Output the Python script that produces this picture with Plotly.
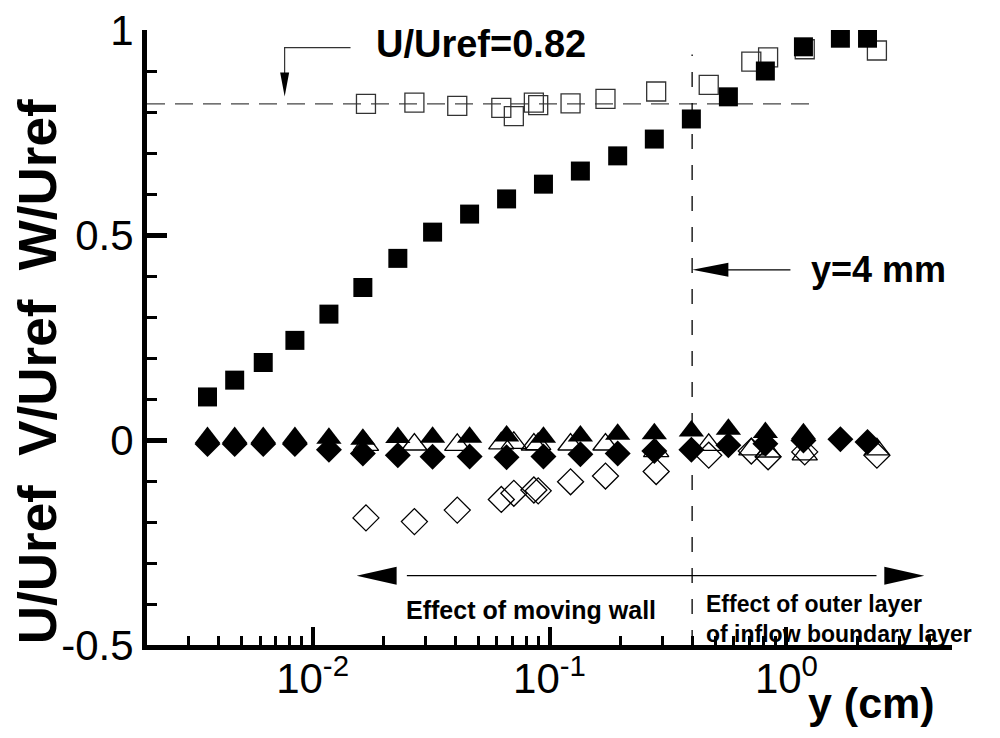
import numpy as np
import plotly.graph_objects as go

# case A (filled symbols): y (cm) and U, V, W / Uref
y_a = [0.00360, 0.00469, 0.00619, 0.00842, 0.01172, 0.01630, 0.0229, 0.0321, 0.0460, 0.0659,
       0.0943, 0.135, 0.194, 0.277, 0.397, 0.569, 0.815, 1.18, 1.69, 2.20]
u_a = [0.105, 0.146, 0.189, 0.243, 0.307, 0.372, 0.443, 0.507, 0.551, 0.588,
       0.624, 0.656, 0.693, 0.734, 0.783, 0.837, 0.900, 0.959, 0.980, 0.980]
v_a = [0.006, 0.006, 0.006, 0.006, 0.004, 0.002, 0.006, 0.007, 0.007, 0.010,
       0.007, 0.010, 0.014, 0.015, 0.022, 0.026, 0.018, 0.015]
w_a = [-0.010, -0.010, -0.010, -0.010, -0.024, -0.033, -0.037, -0.041, -0.040, -0.042,
       -0.040, -0.035, -0.033, -0.027, -0.024, -0.013, -0.009, -0.001, 0.002, -0.005]

# case B (open symbols)
y_b = [0.0168, 0.0269, 0.0408, 0.0626, 0.0707, 0.0859, 0.0896, 0.1227, 0.1723, 0.282,
       0.470, 0.711, 0.837, 1.195, 2.41]
u_b = [0.820, 0.823, 0.815, 0.810, 0.790, 0.823, 0.817, 0.821, 0.832, 0.850,
       0.866, 0.923, 0.933, 0.953, 0.950]
v_b = [-0.012, -0.011, -0.012, -0.008, -0.007, -0.011, -0.010, -0.011, -0.011, -0.027,
       -0.012, -0.023, -0.028, -0.035, -0.023]
w_b = [-0.190, -0.199, -0.171, -0.145, -0.130, -0.122, -0.124, -0.102, -0.088, -0.077,
       -0.037, -0.027, -0.041, -0.029, -0.037]

u_ref = 0.82
y_4mm = 0.4

x_lim = [0.002, 5.0]
y_lim = [-0.5, 1.0]
y_ticks = [-0.5, 0, 0.5, 1]
y_ticktext = ['-0.5', '0', '0.5', '1']
x_ticks = [0.01, 0.1, 1]
x_ticktext = ['10<sup>-2</sup>', '10<sup>-1</sup>', '10<sup>0</sup>']
x_minor = [m * 10.0 ** k for k in (-3, -2, -1, 0) for m in range(2, 10)
           if x_lim[0] <= m * 10.0 ** k <= x_lim[1]]

# plot area: the page body keeps its 8px margin, so the figure is 984x722
L, R, T, B = 139, 40, 22, 85
W_PX, H_PX = 984 - L - R, 722 - T - B
FONT = 'Liberation Sans, Arial, sans-serif'


def fx(x):
    lo, hi = np.log10(x_lim)
    return float((np.log10(x) - lo) / (hi - lo))


def fy(y):
    return (y - y_lim[0]) / (y_lim[1] - y_lim[0])


def head(x, y, direction, length, half):
    # filled arrow head, tip at data point (x, y), sizes in px
    tx, ty = fx(x), fy(y)
    if direction == 'left':
        bx, by = tx + length / W_PX, ty
        p1, p2 = (bx, by + half / H_PX), (bx, by - half / H_PX)
    elif direction == 'right':
        bx, by = tx - length / W_PX, ty
        p1, p2 = (bx, by + half / H_PX), (bx, by - half / H_PX)
    else:
        bx, by = tx, ty + length / H_PX
        p1, p2 = (bx - half / W_PX, by), (bx + half / W_PX, by)
    return dict(type='path', xref='paper', yref='paper', line_width=0, fillcolor='black',
                path=f'M {tx},{ty} L {p1[0]},{p1[1]} L {p2[0]},{p2[1]} Z')


def seg(pts, width=1.2, color='black'):
    d = 'M ' + ' L '.join(f'{fx(a)},{fy(b)}' for a, b in pts)
    return dict(type='path', xref='paper', yref='paper', path=d,
                line=dict(color=color, width=width))


fig = go.Figure()

# reference dashed lines
fig.add_trace(go.Scatter(x=[x_lim[0], 1.32], y=[u_ref, u_ref], mode='lines',
                         line=dict(color='#444', width=1.3, dash='18px,10px'), hoverinfo='skip'))
fig.add_trace(go.Scatter(x=[y_4mm, y_4mm], y=[y_lim[0], 0.94], mode='lines',
                         line=dict(color='black', width=1.3, dash='15px,16px'), hoverinfo='skip'))

# open symbols
fig.add_trace(go.Scatter(x=y_b, y=w_b, mode='markers', name='W/Uref B',
                         marker=dict(symbol='diamond-open', size=20, color='black', line=dict(width=1.3))))
fig.add_trace(go.Scatter(x=y_b, y=v_b, mode='markers', name='V/Uref B',
                         marker=dict(symbol='triangle-up-open', size=22, color='black', line=dict(width=1.3))))
fig.add_trace(go.Scatter(x=y_b, y=u_b, mode='markers', name='U/Uref B',
                         marker=dict(symbol='square-open', size=19, color='#333', line=dict(width=1.3))))

# filled symbols
fig.add_trace(go.Scatter(x=y_a, y=w_a, mode='markers', name='W/Uref A',
                         marker=dict(symbol='diamond', size=20, color='black', line=dict(width=0))))
fig.add_trace(go.Scatter(x=y_a[:len(v_a)], y=v_a, mode='markers', name='V/Uref A',
                         marker=dict(symbol='triangle-up', size=22, color='black', line=dict(width=0))))
fig.add_trace(go.Scatter(x=y_a, y=u_a, mode='markers', name='U/Uref A',
                         marker=dict(symbol='square', size=19, color='black', line=dict(width=0))))

shapes = [
    # leader to U/Uref=0.82
    seg([(0.01446, 0.957), (0.00762, 0.957), (0.00762, 0.87)], width=1.2, color='#333'),
    head(0.00762, 0.838, 'down', 24, 4.5),
    # y = 4 mm arrow
    seg([(1.04, 0.415), (0.55, 0.415)]),
    head(0.401, 0.415, 'left', 36, 7),
    # double arrow
    seg([(0.025, -0.331), (2.4, -0.331)]),
    head(0.01534, -0.331, 'left', 40, 9),
    head(3.82, -0.331, 'right', 40, 9),
]

annotations = [
    dict(x=fx(0.01808), y=fy(0.966), text='<b>U/Uref=0.82</b>', xanchor='left', yanchor='middle',
         font=dict(size=38)),
    dict(x=fx(1.24), y=fy(0.415), text='<b>y=4 mm</b>', xanchor='left', yanchor='middle',
         font=dict(size=36)),
    dict(x=fx(0.0839), y=fy(-0.414), text='<b>Effect of moving wall</b>', xanchor='center',
         yanchor='middle', font=dict(size=25)),
    dict(x=fx(0.448), y=fy(-0.437), text='<b>Effect of outer layer<br>of inflow boundary layer</b>',
         xanchor='left', yanchor='middle', align='left', font=dict(size=23)),
    dict(x=-0.135, y=0.444, text='<b>U/Uref\u00a0\u00a0V/Uref\u00a0\u00a0W/Uref</b>', textangle=-90,
         xanchor='center', yanchor='middle', font=dict(size=53)),
    dict(x=0.90, y=-0.094, text='<b>y (cm)</b>', xanchor='center', yanchor='middle',
         font=dict(size=43)),
]
for a in annotations:
    a.update(xref='paper', yref='paper', showarrow=False)
    a['font'].update(family=FONT, color='black')

fig.update_layout(
    paper_bgcolor='white', plot_bgcolor='white',
    showlegend=False,
    margin=dict(l=L, r=R, t=T, b=B, autoexpand=False),
    font=dict(family=FONT, color='black'),
    shapes=shapes, annotations=annotations,
)
fig.update_xaxes(type='log', range=[np.log10(x_lim[0]), np.log10(x_lim[1])],
                 automargin=False, showgrid=False, zeroline=False,
                 showline=True, linewidth=5, linecolor='black',
                 ticks='inside', ticklen=18, tickwidth=4, tickcolor='black',
                 tickvals=x_ticks, ticktext=x_ticktext, tickfont=dict(size=42),
                 ticklabeloverflow='allow', ticklabelstandoff=-7,
                 minor=dict(tickvals=x_minor, ticks='inside', ticklen=9, tickwidth=2.5,
                            tickcolor='black', showgrid=False))
fig.update_yaxes(range=y_lim, automargin=False, showgrid=False, zeroline=False,
                 showline=True, linewidth=5, linecolor='black',
                 ticks='inside', ticklen=20, tickwidth=5, tickcolor='black',
                 tickvals=y_ticks, ticktext=y_ticktext, tickfont=dict(size=42),
                 ticklabeloverflow='allow',
                 minor=dict(dtick=0.1, ticks='inside', ticklen=10, tickwidth=2.5,
                            tickcolor='black', showgrid=False))

fig.write_html("out.html")
